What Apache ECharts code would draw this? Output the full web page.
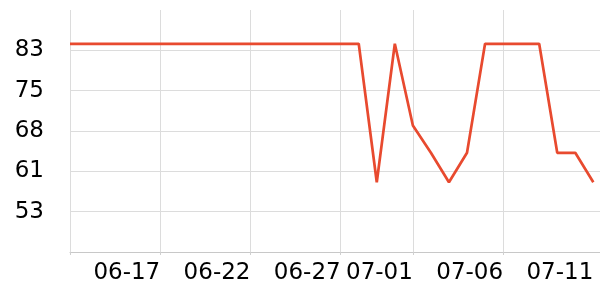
<!DOCTYPE html>
<html>
<head>
<meta charset="utf-8">
<script src="https://cdn.jsdelivr.net/npm/echarts@6/dist/echarts.min.js"></script>
<style>html,body{margin:0;padding:0;background:#fff}#c{width:600px;height:300px}</style>
</head>
<body>
<div id="c"></div>
<script>
// Data
const dates = ['2024-06-12','2024-06-13','2024-06-14','2024-06-15','2024-06-16','2024-06-17','2024-06-18','2024-06-19','2024-06-20','2024-06-21',
               '2024-06-22','2024-06-23','2024-06-24','2024-06-25','2024-06-26','2024-06-27','2024-06-28','2024-06-29','2024-06-30','2024-07-01',
               '2024-07-02','2024-07-03','2024-07-04','2024-07-05','2024-07-06','2024-07-07','2024-07-08','2024-07-09','2024-07-10','2024-07-11'];
const values = [84,84,84,84,84,84,84,84,84,84,
                84,84,84,84,84,84,84,58.6,84,69,
                64,58.6,64,84,84,84,84,64,64,58.6];
const xTickDates = ['2024-06-12','2024-06-17','2024-06-22','2024-06-27','2024-07-01','2024-07-06'];
const xLabelDates = ['2024-06-17','2024-06-22','2024-06-27','2024-07-01','2024-07-06','2024-07-11'];
const yMin = 45.8, yMax = 90.2, yStep = 7.4;

const idx = d => dates.indexOf(d);
const chart = echarts.init(document.getElementById('c'), null, {renderer:'canvas'});
const font = 'DejaVu Sans';
chart.setOption({
  animation: false,
  grid: {left: 70, right: 0, top: 10, bottom: 48},
  xAxis: {
    type: 'value',
    min: 0,
    max: dates.length - 1 + 0.37,
    axisLine: {show: true, lineStyle: {color: '#c8c8c8', width: 1}},
    axisTick: {show: true, length: 3, lineStyle: {color: '#d0d0d0'}, customValues: xTickDates.map(idx)},
    axisLabel: {
      customValues: xLabelDates.map(idx),
      formatter: v => dates[Math.round(v)].slice(5),
      align: 'right', margin: 10, fontSize: 23, fontFamily: font, color: '#000'
    },
    splitLine: {show: true, lineStyle: {color: '#dcdcdc', width: 1}}
  },
  yAxis: {
    type: 'value',
    min: yMin, max: yMax, interval: yStep,
    axisLine: {show: false},
    axisTick: {show: false},
    axisLabel: {showMinLabel: false, showMaxLabel: false, margin: 26, fontSize: 23, fontFamily: font, color: '#000',
      formatter: v => String(Math.round(v))},
    splitLine: {show: true, showMinLine: false, showMaxLine: false, lineStyle: {color: '#dcdcdc', width: 1}}
  },
  series: [{
    type: 'line',
    data: dates.map((d,i) => [i, values[i]]),
    showSymbol: false,
    lineStyle: {color: '#e84a2f', width: 2.7},
    itemStyle: {color: '#e84a2f'}
  }]
});
</script>
</body>
</html>
